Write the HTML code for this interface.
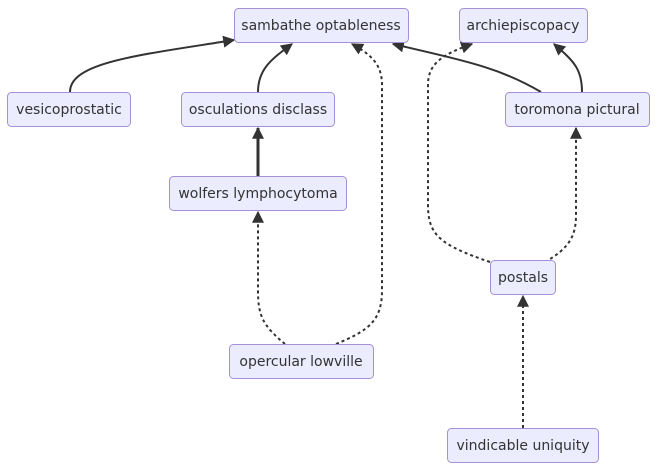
<!DOCTYPE html>
<html><head><meta charset="utf-8"><style>
html,body{margin:0;padding:0;background:#fff;width:657px;height:470px;overflow:hidden}
text{font-family:"DejaVu Sans","Liberation Sans",sans-serif;font-size:14px;fill:#333;text-anchor:middle;dominant-baseline:central}
rect{fill:#ececff;stroke:#a58fd8;stroke-width:1}
.e{fill:none;stroke:#333;stroke-width:2}
.d{fill:none;stroke:#333;stroke-width:2;stroke-dasharray:3 3}
</style></head><body>
<svg width="657" height="470" viewBox="0 0 657 470">
<defs>
<marker id="b" viewBox="0 0 10 10" refX="9" refY="5" markerWidth="12" markerHeight="12" orient="auto" markerUnits="userSpaceOnUse"><path d="M0,0L10,5L0,10z" fill="#333"/></marker></defs>
<path class="e" d="M70,92 C70,62 140,55 234,40" marker-end="url(#b)"/>
<path class="e" d="M258,92 C258,70 270,60 292,44" marker-end="url(#b)"/>
<path class="e" style="stroke-width:3" d="M258,176 L258,128" marker-end="url(#b)"/>
<path class="d" d="M285,344 C262,325 258,315 258,290 L258,212" marker-end="url(#b)"/>
<path class="d" d="M336,344 C370,330 382,320 382,290 L382,85 C382,65 372,55 352,44" marker-end="url(#b)"/>
<path class="e" d="M541,92 C500,68 470,62 393,44" marker-end="url(#b)"/>
<path class="e" d="M582,92 C582,70 575,62 554,44" marker-end="url(#b)"/>
<path class="d" d="M490,262 C440,245 428,235 428,205 L428,85 C428,65 440,55 472,44" marker-end="url(#b)"/>
<path class="d" d="M545,262 C570,248 576,235 576,215 L576,128" marker-end="url(#b)"/>
<path class="d" d="M523,428 L523,296" marker-end="url(#b)"/>
<rect x="234.5" y="8.5" width="174" height="34" rx="4"/><text x="321" y="26">sambathe optableness</text>
<rect x="459.5" y="8.5" width="128" height="34" rx="4"/><text x="523" y="26">archiepiscopacy</text>
<rect x="7.5" y="92.5" width="123" height="34" rx="4"/><text x="69" y="110">vesicoprostatic</text>
<rect x="181.5" y="92.5" width="153" height="34" rx="4"/><text x="258" y="110">osculations disclass</text>
<rect x="505.5" y="92.5" width="144" height="34" rx="4"/><text x="577" y="110">toromona pictural</text>
<rect x="169.5" y="176.5" width="177" height="34" rx="4"/><text x="258" y="194">wolfers lymphocytoma</text>
<rect x="490.5" y="260.5" width="65" height="34" rx="4"/><text x="523" y="278">postals</text>
<rect x="229.5" y="344.5" width="144" height="34" rx="4"/><text x="301" y="362">opercular lowville</text>
<rect x="447.5" y="428.5" width="151" height="34" rx="4"/><text x="523" y="446">vindicable uniquity</text>
</svg>
</body></html>
